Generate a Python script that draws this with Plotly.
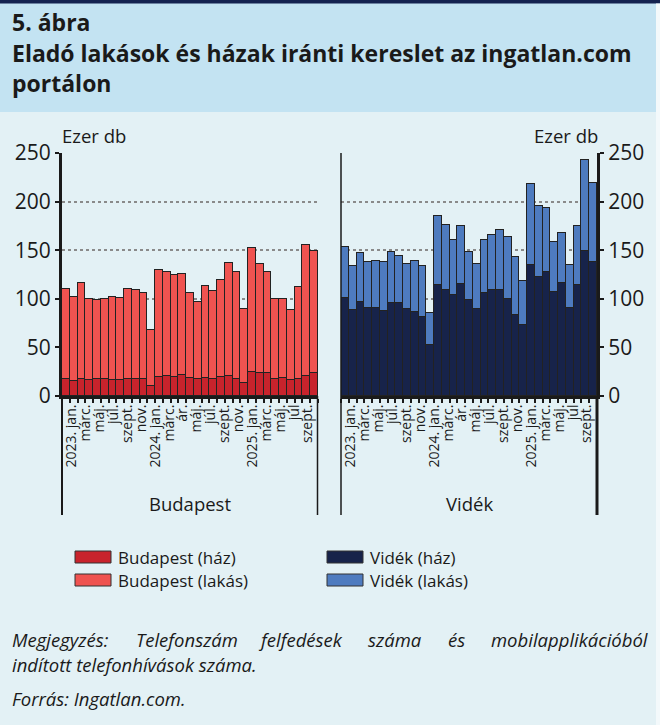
import numpy as np
import plotly.graph_objects as go

# ---------------- data (thousand pcs) ----------------
months = list(range(33))  # 2023 Jan .. 2025 Sep
bp_total = [110, 102, 116, 100, 99, 100, 102, 101, 110, 109, 106, 68,
            130, 128, 124, 126, 106, 97, 113, 108, 119, 137, 128, 90,
            152, 136, 128, 100, 100, 88, 112, 155, 149]
bp_haz = [18, 15.5, 18, 16.5, 17.5, 17.5, 16.5, 16.5, 17, 17, 17, 10,
          20, 21, 20, 22, 19, 17, 19, 17, 20, 21, 17, 13,
          24.5, 23.5, 23.5, 18, 19, 16.5, 18, 21, 23.5]
vid_total = [153, 134, 147, 138, 139, 138, 148, 144, 136, 139, 134, 85,
             185, 176, 161, 175, 148, 136, 160, 166, 171, 164, 143, 118.5,
             218, 195, 193, 158, 168, 135, 175, 243, 219]
vid_haz = [100.5, 88.5, 97, 91, 91, 87, 96, 96, 89, 86.5, 81.5, 52,
           114.5, 109, 103.5, 115.5, 98.5, 90, 105.5, 109, 109, 99.5, 83.5, 73,
           135, 122.5, 127.5, 107, 116.5, 91, 114.5, 149, 138]
bp_lakas = [round(t - h, 1) for t, h in zip(bp_total, bp_haz)]
vid_lakas = [round(t - h, 1) for t, h in zip(vid_total, vid_haz)]

tick_labels = ["2023. jan.", "márc.", "máj.", "júl.", "szept.", "nov.",
               "2024. jan.", "márc.", "ár.", "máj.", "júl.", "szept.", "nov.",
               "2025. jan.", "márc.", "máj.", "júl", "szept."]
y_ticks = [0, 50, 100, 150, 200, 250]

series_names = ["Budapest (ház)", "Budapest (lakás)", "Vidék (ház)", "Vidék (lakás)"]
colors = ["#c8232c", "#ef5350", "#17234a", "#4e7bbf"]

FONT = "Open Sans"
W, H = 660, 725
BAND = "#c3e3f2"
BODY = "#e3f1f5"
DARK = "#1a1a1a"

def px_x(p):
    return p / W

def px_y(p):
    return 1 - p / H

xL = (px_x(62), px_x(318))
xR = (px_x(341), px_x(597))
yD = (px_y(396), px_y(153))

tick_pos = list(np.linspace(0.75, 31.2, len(tick_labels)))

fig = go.Figure()
line = dict(color="#222222", width=1)
fig.add_bar(x=months, y=bp_haz, marker=dict(color=colors[0], line=line), xaxis="x", yaxis="y", name=series_names[0])
fig.add_bar(x=months, y=bp_lakas, marker=dict(color=colors[1], line=line), xaxis="x", yaxis="y", name=series_names[1])
fig.add_bar(x=months, y=vid_haz, marker=dict(color=colors[2], line=line), xaxis="x2", yaxis="y2", name=series_names[2])
fig.add_bar(x=months, y=vid_lakas, marker=dict(color=colors[3], line=line), xaxis="x2", yaxis="y2", name=series_names[3])

xcommon = dict(range=[-0.5, 32.5], tickmode="array", tickvals=tick_pos, ticktext=tick_labels,
               tickangle=-90, ticks="", showgrid=False, zeroline=False, automargin=False,
               showline=True, linecolor=DARK, linewidth=3,
               tickfont=dict(family=FONT, size=14, color=DARK),
               minor=dict(tickmode="array", tickvals=[i - 0.5 for i in range(34)],
                          ticks="outside", ticklen=4, tickwidth=2, tickcolor=DARK, showgrid=False),
               fixedrange=True)
ycommon = dict(range=[0, 250], tickvals=y_ticks, showgrid=True, gridcolor="#8a8a8a",
               griddash="dot", gridwidth=1.5, zeroline=False, showline=True, automargin=False,
               linecolor=DARK, linewidth=3, ticks="outside", ticklen=4, tickwidth=2,
               tickcolor=DARK, tickfont=dict(family=FONT, size=21, color=DARK), fixedrange=True)

fig.update_layout(
    width=W, height=H, margin=dict(l=0, r=0, t=0, b=0, autoexpand=False),
    paper_bgcolor=BODY, plot_bgcolor=BODY,
    barmode="stack", bargap=0, showlegend=False,
    font=dict(family=FONT, color=DARK),
    xaxis=dict(domain=list(xL), anchor="y", **xcommon),
    yaxis=dict(domain=list(yD), anchor="x", side="left", **ycommon),
    xaxis2=dict(domain=list(xR), anchor="y2", **xcommon),
    yaxis2=dict(domain=list(yD), anchor="x2", side="right", **ycommon),
)

shapes = []
# title band, top border, light right edge
shapes.append(dict(type="rect", xref="paper", yref="paper", x0=0, x1=1, y0=px_y(112), y1=1,
                   fillcolor=BAND, line=dict(width=0), layer="below"))
shapes.append(dict(type="rect", xref="paper", yref="paper", x0=0, x1=1, y0=px_y(3.5), y1=1,
                   fillcolor="#142350", line=dict(width=0)))
shapes.append(dict(type="rect", xref="paper", yref="paper", x0=px_x(656), x1=1, y0=0, y1=px_y(3.5),
                   fillcolor="#f3f9fb", line=dict(width=0)))
# panel side lines below the axis (category boxes)
def vline(x, y0, y1, w):
    shapes.append(dict(type="line", xref="paper", yref="paper", x0=px_x(x), x1=px_x(x),
                       y0=px_y(y0), y1=px_y(y1), line=dict(color=DARK, width=w)))
vline(62, 396, 515, 2)
vline(317.5, 396, 515, 1.5)
vline(341, 153, 515, 1.5)
vline(597, 396, 515, 3)

# legend swatches
def swatch(x0, yc, c):
    shapes.append(dict(type="rect", xref="paper", yref="paper", x0=px_x(x0), x1=px_x(x0 + 36),
                       y0=px_y(yc + 6), y1=px_y(yc - 6), fillcolor=c,
                       line=dict(color="#333333", width=1)))
swatch(75, 557, colors[0])
swatch(75, 580, colors[1])
swatch(327, 557, colors[2])
swatch(327, 580, colors[3])
fig.update_layout(shapes=shapes)

ann = []
def text(x, y, s, size, xanchor="left", bold=False, italic=False, color=DARK):
    if bold:
        s = "<b>" + s + "</b>"
    if italic:
        s = "<i>" + s + "</i>"
    shift = -2 if xanchor == "left" else (2 if xanchor == "right" else 0)
    ann.append(dict(x=px_x(x), y=px_y(y), xref="paper", yref="paper", text=s, showarrow=False,
                    xanchor=xanchor, yanchor="middle", xshift=shift,
                    font=dict(family=FONT, size=size, color=color)))

text(12, 22, "5. ábra", 23, bold=True)
text(12, 53, "Eladó lakások és házak iránti kereslet az ingatlan.com", 23, bold=True)
text(12, 83, "portálon", 23, bold=True)

text(62, 136, "Ezer db", 18.5)
text(598, 136, "Ezer db", 18.5, xanchor="right")

text(190, 503, "Budapest", 18.5, xanchor="center")
text(469, 503, "Vidék", 18.5, xanchor="center")

text(118, 557, series_names[0], 17)
text(118, 580, series_names[1], 17)
text(370, 557, series_names[2], 17)
text(370, 580, series_names[3], 17)

# justified first note line: words spread across the width
words = ["Megjegyzés:", "Telefonszám", "felfedések", "száma", "és"]
word_x = [12, 136, 258, 368, 448]
for wx, wd in zip(word_x, words):
    text(wx, 639, wd, 18.5, italic=True)
text(648, 639, "mobilapplikációból", 18.5, xanchor="right", italic=True)
text(12, 664, "indított telefonhívások száma.", 18.5, italic=True)
text(12, 698, "Forrás: Ingatlan.com.", 18.5, italic=True)

fig.update_layout(annotations=ann)
fig.write_html("out.html", post_script="document.body.style.margin='0';",
               config={"displayModeBar": False})
